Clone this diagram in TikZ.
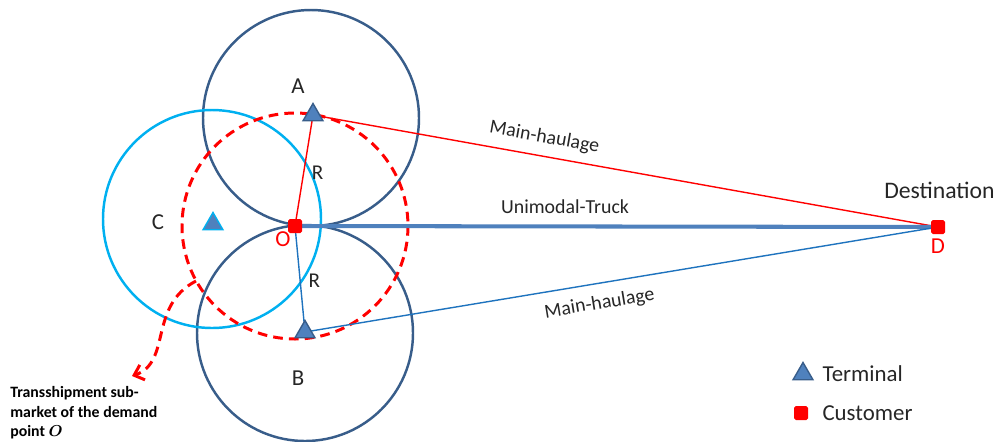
\documentclass[tikz,border=0pt]{standalone}
\usepackage{amsmath,amssymb}
\usepackage{fontspec}
\setmainfont{Carlito}
\usetikzlibrary{shapes,arrows,arrows.meta,positioning,calc,backgrounds}
\definecolor{ringBlue}{RGB}{56,93,138}
\definecolor{ringCyan}{RGB}{0,176,240}
\definecolor{truckBlue}{RGB}{79,129,189}
\definecolor{haulBlue}{RGB}{30,115,190}
\definecolor{custRed}{RGB}{255,0,0}

\begin{document}
\begin{tikzpicture}[
            x=0.02cm, y=-0.02cm,
            node distance=0.15cm,
            terminal/.style={regular polygon, regular polygon sides=3, draw=ringBlue, fill=truckBlue, line width=0.8pt, minimum size=0.46cm, inner sep=0pt},
            customer/.style={rectangle, rounded corners=1pt, fill=custRed, minimum size=0.28cm, inner sep=0pt},
            ring/.style={draw=ringBlue, line width=1.4pt},
            lbl/.style={font=\fontsize{13}{15}\selectfont, text=black!85},
            small/.style={font=\fontsize{11.3}{13}\selectfont, text=black!85}
        ]
            \useasboundingbox (0,0) rectangle (997,441);

            % terminals and customers
            \node[terminal] (tA) at (313,115) {};
            \node[terminal] (tB) at (305,332) {};
            \node[terminal, draw=ringCyan] (tC) at (213,224) {};
            \node[customer] (O) at (295,226) {};
            \node[customer] (D) at (938,227) {};

            \node[lbl] (labA) at (298,86) {A};
            \node[lbl] (labB) at (298,378) {B};
            \node[lbl] (labC) at (158,222) {C};
            \node[lbl, text=custRed] (labO) at (283,239) {O};
            \node[lbl, text=custRed] (labD) at (938,246) {D};
            \node[lbl, anchor=east, inner sep=0pt, font=\fontsize{13.5}{16}\selectfont] (dest) at (995,190) {Destination};

            \begin{scope}[on background layer]
                % market areas
                \draw[ring] (311,118) circle[radius=108];
                \draw[ring] (305,333) circle[radius=108];
                \draw[draw=ringCyan, line width=1.4pt] (212,219) circle[radius=109];
                \draw[custRed, line width=1.7pt, dash pattern=on 5.5pt off 3.5pt] (O.center) circle[radius=113];

                % links
                \draw[custRed, line width=0.8pt] (tA.center) -- (O.center)
                    node[pos=0.52, right=1pt, lbl, font=\fontsize{12}{14}\selectfont] (R1) {R};
                \draw[haulBlue, line width=0.8pt] (O.center) -- (tB.center)
                    node[pos=0.52, right=1pt, lbl, font=\fontsize{12}{14}\selectfont] (R2) {R};
                \draw[custRed, line width=0.8pt] (tA.center) -- (D.center)
                    node[pos=0.365, sloped, above=2pt, small] (mh1) {Main-haulage};
                \draw[truckBlue, line width=2.3pt] (O.center) -- (D.center)
                    node[pos=0.42, above=3pt, small] (ut) {Unimodal-Truck};
                \draw[haulBlue, line width=0.8pt] (tB.center) -- (D.center)
                    node[pos=0.46, sloped, below=3pt, small] (mh2) {Main-haulage};
            \end{scope}

            % sub-market pointer
            \coordinate (sm) at (196,281);
            \coordinate (smEnd) at (132,376);
            \draw[custRed, line width=1.7pt, dash pattern=on 5.5pt off 3.5pt, -{Straight Barb[length=5pt,width=9pt]}]
                (sm) .. controls (148,306) and (172,362) .. (smEnd);
            \node[anchor=north west, align=left, font=\bfseries\fontsize{9}{11.2}\selectfont, inner sep=0pt] (note) at (10,386)
                {Transshipment sub-\\market of the demand\\point $\boldsymbol{O}$};

            % legend
            \node[terminal] (legT) at (803,374) {};
            \node[lbl, anchor=west, right=0.12cm of legT] (legTt) {Terminal};
            \node[customer] (legC) at (801,413) {};
            \node[lbl, anchor=west, right=0.16cm of legC] (legCt) {Customer};
        \end{tikzpicture}
\end{document}
